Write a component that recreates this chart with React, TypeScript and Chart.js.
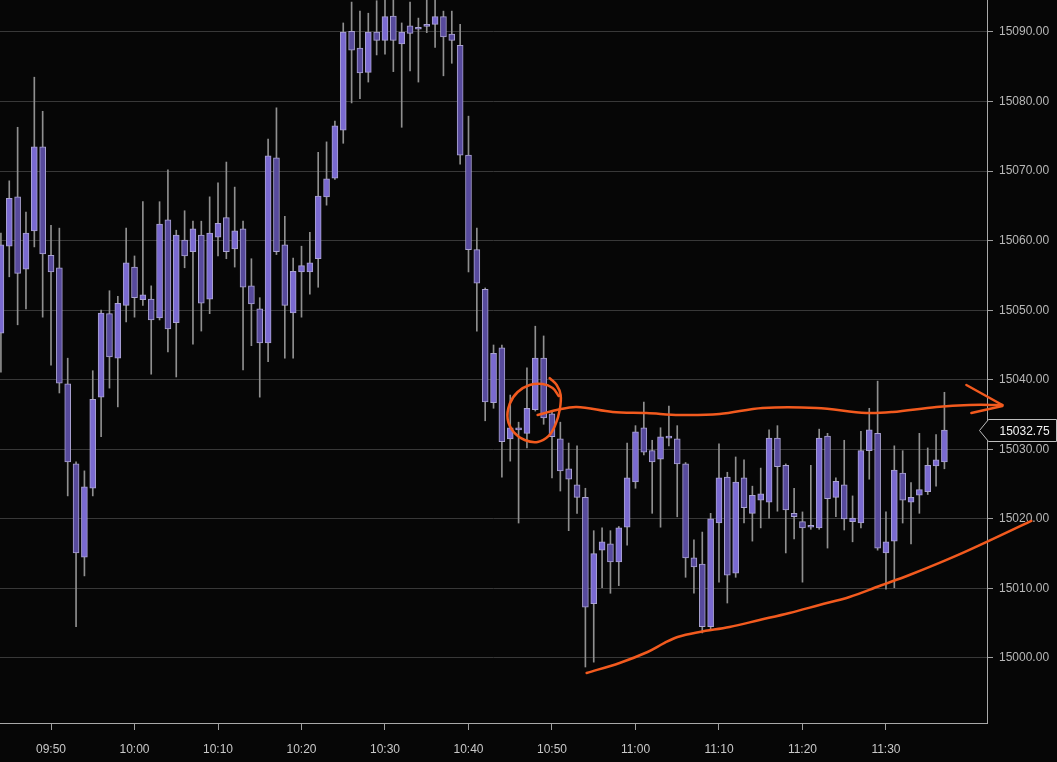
import React, { useEffect, useRef } from 'react';
import { Chart, registerables } from 'chart.js';

Chart.register(...registerables);

// ---- Data: 1-minute candles starting at 09:44 ----
const START_TIME = '09:44';

const OPEN = [
  15046.7, 15059.2, 15066.3, 15055.9, 15061.4, 15073.5, 15057.9, 15056.1, 15039.4, 15027.9,
  15014.5, 15024.4, 15037.5, 15049.5, 15043.1, 15050.7, 15056.2, 15051.5, 15051.6, 15048.9,
  15063.0, 15048.2, 15060.1, 15058.4, 15060.8, 15051.6, 15060.5, 15063.3, 15058.8, 15061.7,
  15053.5, 15050.2, 15045.3, 15071.9, 15059.4, 15049.6, 15055.5, 15055.5, 15057.4, 15066.3,
  15069.0, 15075.9, 15090.1, 15087.7, 15084.2, 15090.0, 15088.8, 15092.3, 15088.3, 15090.9,
  15090.4, 15090.8, 15091.1, 15092.2, 15089.7, 15088.1, 15072.3, 15058.7, 15053.0, 15036.7,
  15044.6, 15031.5, 15032.8, 15032.3, 15035.7, 15043.1, 15035.1, 15031.5, 15027.2, 15024.9,
  15023.1, 15007.8, 15015.5, 15016.4, 15013.8, 15018.8, 15025.3, 15033.1, 15029.8, 15028.6,
  15031.6, 15031.5, 15027.9, 15014.4, 15013.5, 15004.5, 15019.4, 15026.0, 15012.2, 15025.9,
  15020.8, 15022.7, 15022.4, 15031.6, 15027.7, 15020.8, 15019.6, 15018.8, 15018.7, 15031.9,
  15023.1, 15024.9, 15019.6, 15019.4, 15029.8, 15032.3, 15015.1, 15016.8, 15026.6, 15022.4,
  15023.4, 15023.9, 15027.6, 15028.2,
];
const HIGH = [
  15061.1, 15068.6, 15076.3, 15064.1, 15083.5, 15078.6, 15062.2, 15061.8, 15043.1, 15028.2,
  15026.9, 15041.3, 15050.0, 15052.8, 15052.0, 15061.8, 15057.8, 15065.6, 15053.5, 15065.6,
  15070.2, 15061.5, 15064.3, 15062.8, 15062.8, 15066.3, 15068.3, 15071.3, 15067.7, 15062.8,
  15057.4, 15051.8, 15074.6, 15079.1, 15063.5, 15057.5, 15059.2, 15061.2, 15072.7, 15074.2,
  15077.2, 15091.3, 15094.3, 15093.0, 15092.7, 15094.5, 15095.5, 15095.0, 15091.3, 15094.3,
  15092.0, 15096.0, 15095.5, 15093.0, 15093.0, 15091.1, 15077.9, 15061.8, 15053.2, 15045.0,
  15045.0, 15037.8, 15033.9, 15041.7, 15047.7, 15046.3, 15035.5, 15033.9, 15030.9, 15030.5,
  15024.4, 15018.3, 15018.7, 15018.3, 15018.9, 15030.9, 15033.4, 15036.8, 15031.3, 15033.1,
  15036.2, 15033.4, 15028.1, 15017.0, 15018.1, 15020.8, 15030.8, 15026.7, 15028.9, 15028.5,
  15024.7, 15027.3, 15032.8, 15033.4, 15027.9, 15024.4, 15021.0, 15027.7, 15032.9, 15032.3,
  15025.9, 15031.3, 15023.3, 15032.6, 15035.9, 15039.8, 15021.0, 15030.5, 15029.8, 15025.2,
  15032.3, 15030.2, 15032.1, 15038.2,
];
const LOW = [
  15041.1, 15054.8, 15047.9, 15050.2, 15059.1, 15049.0, 15042.1, 15038.1, 15023.3, 15004.5,
  15011.8, 15023.3, 15031.8, 15038.8, 15036.1, 15048.3, 15049.0, 15050.7, 15040.8, 15048.6,
  15044.0, 15040.4, 15056.1, 15045.1, 15047.0, 15049.5, 15057.8, 15057.4, 15056.2, 15041.4,
  15044.9, 15037.5, 15042.6, 15058.0, 15043.1, 15043.1, 15049.0, 15052.3, 15053.3, 15065.1,
  15068.8, 15074.0, 15079.8, 15080.4, 15082.8, 15086.7, 15086.8, 15084.3, 15076.3, 15084.4,
  15082.8, 15089.9, 15087.8, 15083.7, 15085.5, 15071.0, 15055.5, 15047.0, 15034.1, 15035.9,
  15026.0, 15028.3, 15019.4, 15030.2, 15035.5, 15033.6, 15025.9, 15024.0, 15018.3, 15020.8,
  14998.7, 14999.4, 15010.1, 15009.3, 15010.4, 15016.2, 15024.4, 15029.2, 15020.8, 15018.8,
  15030.5, 15020.3, 15011.6, 15009.3, 15003.6, 15004.2, 15010.9, 15007.9, 15011.6, 15019.4,
  15016.8, 15018.7, 15020.1, 15021.1, 15015.1, 15017.1, 15010.9, 15018.5, 15018.5, 15015.8,
  15020.3, 15018.4, 15016.7, 15018.7, 15025.7, 15015.5, 15009.9, 15010.1, 15019.4, 15016.4,
  15020.8, 15023.5, 15024.7, 15027.2,
];
const CLOSE = [
  15059.4, 15066.1, 15055.3, 15061.1, 15073.5, 15058.1, 15055.5, 15039.5, 15028.2, 15015.1,
  15024.6, 15037.2, 15049.6, 15043.3, 15051.0, 15056.8, 15051.8, 15052.2, 15048.6, 15062.4,
  15047.3, 15060.8, 15057.8, 15061.7, 15051.0, 15061.1, 15062.5, 15058.4, 15061.4, 15053.3,
  15050.9, 15045.3, 15072.2, 15058.4, 15050.7, 15055.6, 15056.4, 15056.8, 15066.4, 15068.9,
  15076.5, 15090.0, 15087.4, 15084.1, 15090.0, 15088.8, 15092.2, 15088.8, 15090.0, 15089.8,
  15090.6, 15091.0, 15092.2, 15089.3, 15088.8, 15072.3, 15058.7, 15053.9, 15036.8, 15043.8,
  15031.1, 15033.1, 15033.0, 15035.9, 15043.1, 15034.5, 15031.8, 15026.9, 15025.7, 15023.1,
  15007.3, 15015.0, 15016.7, 15013.8, 15018.7, 15025.9, 15032.5, 15029.6, 15028.2, 15031.8,
  15031.9, 15027.9, 15014.4, 15013.1, 15004.5, 15020.0, 15025.9, 15011.9, 15025.3, 15021.6,
  15023.4, 15023.6, 15031.6, 15027.5, 15021.3, 15020.3, 15018.7, 15018.9, 15031.6, 15022.9,
  15025.4, 15020.0, 15020.1, 15029.8, 15032.8, 15015.8, 15016.7, 15027.0, 15022.7, 15023.1,
  15024.2, 15027.7, 15028.5, 15032.75,
];

const X_TICK_LABELS = ['09:50', '10:00', '10:10', '10:20', '10:30', '10:40', '10:50', '11:00', '11:10', '11:20', '11:30'];
const Y_TICKS = [15000, 15010, 15020, 15030, 15040, 15050, 15060, 15070, 15080, 15090];

// Hand-drawn annotations (time in minutes of day, price)
const RESIST_T = [648.28, 650.56, 652.95, 657.26, 661.33, 665.28, 670.07, 675.22, 681.68, 687.66, 690.78, 696.04, 699.99, 703.94];
const RESIST_P = [15034.94, 15035.65, 15036.09, 15035.37, 15035.22, 15034.94, 15035.08, 15035.94, 15035.94, 15035.22, 15035.37, 15036.09, 15036.37, 15036.37];
const ARROW_A_T = [699.63, 703.94];
const ARROW_A_P = [15039.25, 15036.37];
const ARROW_B_T = [700.23, 703.94];
const ARROW_B_P = [15035.22, 15036.23];
const CIRCLE_T = [649.72, 650.56, 651.04, 650.92, 650.44, 649.60, 648.28, 646.73, 645.41, 644.69, 644.93, 645.89, 647.33, 648.88, 650.08, 650.80];
const CIRCLE_P = [15040.25, 15039.25, 15037.81, 15035.65, 15033.64, 15031.92, 15031.05, 15031.34, 15032.49, 15034.36, 15036.52, 15038.24, 15039.25, 15039.39, 15038.82, 15037.67];
const SUPPORT_T = [654.15, 658.10, 661.45, 663.48, 665.04, 667.67, 671.26, 674.86, 678.45, 682.03, 685.63, 689.22, 692.81, 696.40, 699.99, 707.41];
const SUPPORT_P = [14997.84, 14999.28, 15000.86, 15002.16, 15003.02, 15003.74, 15004.46, 15005.46, 15006.47, 15007.62, 15008.77, 15010.35, 15011.93, 15013.66, 15015.53, 15019.70];

// View range
const X_MIN = 583.89;
const X_MAX = 702.1;
const Y_MIN = 14990.65;
const Y_MAX = 15094.6;

const toMin = (s: string) => {
  const [h, m] = s.split(':').map(Number);
  return h * 60 + m;
};
const fmtTime = (v: number) => {
  const h = Math.floor(v / 60);
  const m = Math.round(v - h * 60);
  return `${String(h).padStart(2, '0')}:${String(m).padStart(2, '0')}`;
};
const pts = (ts: number[], ps: number[]) => ts.map((t, i) => ({ x: t, y: ps[i] }));

const ORANGE = '#f25a1e';
const FONT = '"Liberation Sans", Arial, sans-serif';

export default function App() {
  const ref = useRef<HTMLCanvasElement | null>(null);

  useEffect(() => {
    const canvas = ref.current;
    if (!canvas) return;
    const t0 = toMin(START_TIME);
    const times = OPEN.map((_, i) => t0 + i);
    const up = OPEN.map((o, i) => CLOSE[i] >= o);

    const bg = {
      id: 'bg',
      beforeDraw(chart: any) {
        const c = chart.ctx;
        c.save();
        c.fillStyle = '#060606';
        c.fillRect(0, 0, chart.width, chart.height);
        c.restore();
      },
    };

    const lastPrice = {
      id: 'lastPrice',
      afterDatasetsDraw(chart: any) {
        const last = CLOSE[CLOSE.length - 1];
        const y = Math.round(chart.scales.y.getPixelForValue(last)) + 0.5;
        const x0 = Math.round(chart.chartArea.right) + 0.5;
        const c = chart.ctx;
        c.save();
        c.beginPath();
        c.moveTo(x0 - 8, y);
        c.lineTo(x0 + 1, y - 11);
        c.lineTo(chart.width - 0.5, y - 11);
        c.lineTo(chart.width - 0.5, y + 11);
        c.lineTo(x0 + 1, y + 11);
        c.closePath();
        c.fillStyle = '#060606';
        c.fill();
        c.strokeStyle = '#bdbdbd';
        c.lineWidth = 1;
        c.stroke();
        c.fillStyle = '#f2f2f2';
        c.font = `12px ${FONT}`;
        c.textBaseline = 'middle';
        c.textAlign = 'left';
        c.fillText(last.toFixed(2), x0 + 12, y + 1);
        c.restore();
      },
    };

    const lineDs = (data: any[], tension: number) => ({
      type: 'line',
      data,
      borderColor: ORANGE,
      backgroundColor: ORANGE,
      borderWidth: 2.5,
      pointRadius: 0,
      tension,
      fill: false,
      clip: false,
      order: 0,
      borderCapStyle: 'round',
      borderJoinStyle: 'round',
    });

    const chart = new Chart(canvas, {
      type: 'bar',
      data: {
        datasets: [
          {
            type: 'bar',
            data: times.map((t, i) => ({ x: t, y: [LOW[i], HIGH[i]] })),
            backgroundColor: '#8f8f8f',
            borderWidth: 0,
            barThickness: 1,
            grouped: false,
            order: 3,
          } as any,
          {
            type: 'bar',
            data: times.map((t, i) => ({ x: t, y: [OPEN[i], CLOSE[i]] })),
            backgroundColor: up.map((u) => (u ? '#7a6ad0' : '#574a9c')),
            borderColor: '#aaa3d2',
            borderWidth: 1,
            borderSkipped: false,
            barThickness: 6,
            minBarLength: 2,
            grouped: false,
            order: 2,
          } as any,
          lineDs(pts(RESIST_T, RESIST_P), 0.35) as any,
          lineDs(pts(ARROW_A_T, ARROW_A_P), 0) as any,
          lineDs(pts(ARROW_B_T, ARROW_B_P), 0) as any,
          lineDs(pts(CIRCLE_T, CIRCLE_P), 0.4) as any,
          lineDs(pts(SUPPORT_T, SUPPORT_P), 0.35) as any,
        ],
      },
      options: {
        animation: false,
        responsive: false,
        devicePixelRatio: 1,
        events: [],
        layout: { padding: 0 },
        plugins: { legend: { display: false }, tooltip: { enabled: false } },
        scales: {
          x: {
            type: 'linear',
            position: 'bottom',
            min: X_MIN,
            max: X_MAX,
            offset: false,
            afterBuildTicks: (axis: any) => {
              axis.ticks = X_TICK_LABELS.map((s) => ({ value: toMin(s) }));
            },
            afterFit: (axis: any) => {
              axis.height = 39;
              axis.paddingLeft = 0;
              axis.paddingRight = 0;
              axis.paddingTop = 0;
              axis.paddingBottom = 0;
            },
            grid: {
              offset: false,
              drawOnChartArea: false,
              drawTicks: true,
              tickLength: 7,
              tickColor: '#a0a0a0',
              tickWidth: 1,
            },
            border: { display: true, color: '#a8a8a8', width: 1 },
            ticks: {
              color: '#c8c8c8',
              font: { family: FONT, size: 12 },
              padding: 12,
              maxRotation: 0,
              minRotation: 0,
              autoSkip: false,
              callback: (v: any) => fmtTime(Number(v)),
            },
          },
          y: {
            type: 'linear',
            position: 'right',
            min: Y_MIN,
            max: Y_MAX,
            beginAtZero: false,
            afterBuildTicks: (axis: any) => {
              axis.ticks = Y_TICKS.map((v) => ({ value: v }));
            },
            afterFit: (axis: any) => {
              axis.width = 70;
              axis.paddingTop = 0;
              axis.paddingBottom = 0;
              axis.paddingLeft = 0;
              axis.paddingRight = 0;
            },
            grid: {
              color: '#383838',
              lineWidth: 1,
              drawTicks: true,
              tickLength: 6,
              tickColor: '#a0a0a0',
            },
            border: { display: true, color: '#a8a8a8', width: 1 },
            ticks: {
              color: '#b8b8b8',
              font: { family: FONT, size: 12 },
              padding: 6,
              callback: (v: any) => Number(v).toFixed(2),
            },
          },
        },
      } as any,
      plugins: [bg, lastPrice],
    });

    return () => chart.destroy();
  }, []);

  return (
    <div style={{ position: 'fixed', left: 0, top: 0, width: 1057, height: 762, background: '#060606' }}>
      <canvas ref={ref} width={1057} height={762} style={{ display: 'block', width: 1057, height: 762 }} />
    </div>
  );
}
